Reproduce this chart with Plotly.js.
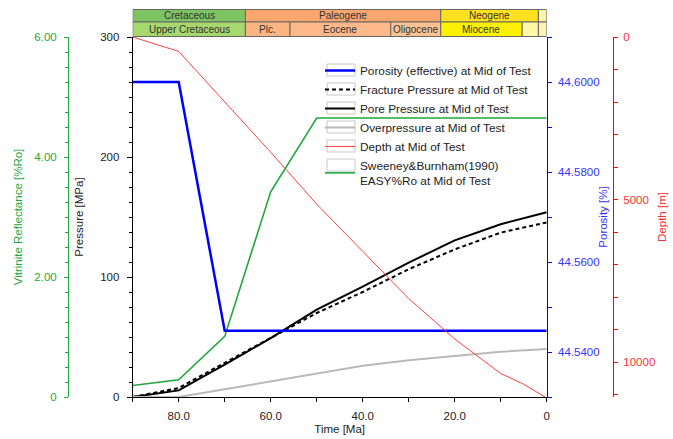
<!DOCTYPE html>
<html>
<head>
<meta charset="utf-8">
<script src="https://cdn.plot.ly/plotly-3.0.1.min.js"></script>
<style>html,body{margin:0;padding:0;background:#fff;}#chart{width:673px;height:439px;}</style>
</head>
<body>
<div id="chart"></div>
<script>
// ---- data ----
const time = [90, 80, 70, 60, 50, 40, 30, 20, 10, 0];
const porePressure = [0, 5.5, 27, 49, 72.8, 92, 112, 130.5, 144, 154];
const fracturePressure = [0, 7.5, 28.5, 49.5, 70, 87.5, 106.5, 123, 137, 145.5];
const overpressure = [0, 0, 6.5, 13, 19, 26, 30.7, 34, 37.7, 40];
const porosityTime = [90, 80, 70, 0];
const porosity = [44.6, 44.6, 44.5447, 44.5447];
const vrTime = [90, 80, 70, 60, 50, 0];
const vitrinite = [0.193, 0.288, 1.01, 3.42, 4.65, 4.65];
const depthTime = [90, 80, 70, 60, 50, 40, 30, 20, 10, 5, 0];
const depth = [0, 443, 1994, 3545, 5138, 6606, 8043, 9286, 10345, 10677, 11100];

const periodNames = ['Cretaceous', 'Paleogene', 'Neogene', ''];
const periodStart = [90, 65.5, 23.03, 1.806];
const periodEnd = [65.5, 23.03, 1.806, 0];
const epochNames = ['Upper Cretaceous', 'Plc.', 'Eocene', 'Oligocene', 'Miocene', '', ''];
const epochStart = [90, 65.5, 55.8, 33.9, 23.03, 5.332, 1.806];
const epochEnd = [65.5, 55.8, 33.9, 23.03, 5.332, 1.806, 0];

const timeTicks = [90, 80, 70, 60, 50, 40, 30, 20, 10, 0];
const timeTickText = ['', '80.0', '', '60.0', '', '40.0', '', '20.0', '', '0'];
const vrTicks = [0, 2, 4, 6];
const vrTickText = ['0', '2.00', '4.00', '6.00'];
const pressureTicks = [0, 100, 200, 300];
const porosityTicks = [44.54, 44.56, 44.58, 44.60];
const depthTicks = [0, 5000, 10000];

// ---- styles ----
const periodColors = ['#7fc462', '#f9a66f', '#ffe11f', '#fff3a8'];
const epochColors = ['#a6d86e', '#fdb582', '#fdb989', '#fdc291', '#fff200', '#fff8a4', '#fff0b4'];
const FONT = 'Liberation Sans, Arial, sans-serif';
const GREEN = '#1fa83c', BLUE = '#0000ff', RED = '#ff0000';

// layout geometry (px)
const W = 673, H = 439, ML = 10, MR = 10, MT = 37, MB = 42;
const PW = W - ML - MR, PH = H - MT - MB;
const px = x => (x - ML) / PW;
const py = y => (H - MB - y) / PH;

const traces = [
  {x: porosityTime, y: porosity, yaxis: 'y3', name: 'Porosity (effective) at Mid of Test',
   mode: 'lines', line: {color: BLUE, width: 2.5}},
  {x: time, y: fracturePressure, yaxis: 'y', name: 'Fracture Pressure at Mid of Test',
   mode: 'lines', line: {color: '#000', width: 2, dash: '4px,3px'}},
  {x: time, y: porePressure, yaxis: 'y', name: 'Pore Pressure at Mid of Test',
   mode: 'lines', line: {color: '#000', width: 2}},
  {x: time, y: overpressure, yaxis: 'y', name: 'Overpressure at Mid of Test',
   mode: 'lines', line: {color: '#b9b9b9', width: 2}},
  {x: depthTime, y: depth, yaxis: 'y4', name: 'Depth at Mid of Test',
   mode: 'lines', line: {color: '#ff4040', width: 1}},
  {x: vrTime, y: vitrinite, yaxis: 'y2', name: 'Sweeney&Burnham(1990)<br>EASY%Ro at Mid of Test',
   mode: 'lines', line: {color: GREEN, width: 1.6}}
];

const shapes = [];
const annotations = [];
const rowTop = py(9.5), rowMid = py(22), rowBot = py(36.5);
periodNames.forEach((n, i) => {
  shapes.push({type: 'rect', xref: 'x', yref: 'paper', x0: periodStart[i], x1: periodEnd[i],
    y0: rowMid, y1: rowTop, fillcolor: periodColors[i], line: {color: '#666', width: 1}, layer: 'above'});
  if (n) annotations.push({xref: 'x', yref: 'paper', x: (periodStart[i] + periodEnd[i]) / 2,
    y: (rowMid + rowTop) / 2, text: n, showarrow: false, font: {family: FONT, size: 10, color: '#333'},
    xanchor: 'center', yanchor: 'middle'});
});
epochNames.forEach((n, i) => {
  shapes.push({type: 'rect', xref: 'x', yref: 'paper', x0: epochStart[i], x1: epochEnd[i],
    y0: rowBot, y1: rowMid, fillcolor: epochColors[i], line: {color: '#666', width: 1}, layer: 'above'});
  if (n) annotations.push({xref: 'x', yref: 'paper', x: (epochStart[i] + epochEnd[i]) / 2,
    y: (rowMid + rowBot) / 2, text: n, showarrow: false, font: {family: FONT, size: 10, color: '#333'},
    xanchor: 'center', yanchor: 'middle'});
});
// legend sample frames
[70, 89, 108, 127, 146, 165].forEach(c => {
  shapes.push({type: 'rect', xref: 'paper', yref: 'paper', x0: px(327), x1: px(355),
    y0: py(c + 6), y1: py(c - 6), line: {color: '#c8c8c8', width: 1}, fillcolor: 'rgba(0,0,0,0)', layer: 'below'});
});

const tickFont = {family: FONT, size: 11.5, color: '#222'};
const layout = {
  width: W, height: H,
  margin: {l: ML, r: MR, t: MT, b: MB},
  paper_bgcolor: '#fff', plot_bgcolor: '#fff',
  font: {family: FONT, size: 11.5, color: '#222'},
  showlegend: true,
  legend: {x: px(320), y: py(56), xanchor: 'left', yanchor: 'top', bgcolor: 'rgba(0,0,0,0)',
    font: {family: FONT, size: 11.8, color: '#222'}, tracegroupgap: 0, itemwidth: 30},
  xaxis: {domain: [px(132.7), px(546.7)], range: [90, 0], showgrid: false, zeroline: false,
    showline: true, linecolor: '#000', linewidth: 1, ticks: 'outside', ticklen: 4, tickcolor: '#000',
    tickvals: timeTicks, ticktext: timeTickText, tickfont: tickFont, ticklabelstandoff: 4,
    title: {text: 'Time [Ma]', font: {family: FONT, size: 11.5, color: '#222'}, standoff: 4}},
  yaxis: {range: [0, 300], showgrid: false, zeroline: false, showline: true, linecolor: '#000',
    ticks: 'outside', ticklen: 5, tickcolor: '#000', tickvals: pressureTicks, tickfont: tickFont,
    ticklabelstandoff: 5,
    minor: {dtick: 12.5, tick0: 0, ticks: 'outside', ticklen: 3, tickcolor: '#000'},
    title: {text: 'Pressure [MPa]', font: {family: FONT, size: 11.5, color: '#222'}, standoff: 14}},
  yaxis2: {range: [0, 6], overlaying: 'y', anchor: 'free', position: px(68), side: 'left',
    showgrid: false, zeroline: false, showline: true, linecolor: GREEN, ticks: 'outside', ticklen: 4,
    tickcolor: GREEN, tickvals: vrTicks, ticktext: vrTickText, ticklabelstandoff: 5,
    tickfont: {family: FONT, size: 11.5, color: GREEN},
    minor: {dtick: 0.25, tick0: 0, ticks: 'outside', ticklen: 3, tickcolor: GREEN},
    title: {text: 'Vitrinite Reflectance [%Ro]', font: {family: FONT, size: 11.5, color: GREEN}, standoff: 8}},
  yaxis3: {range: [44.53, 44.61], overlaying: 'y', anchor: 'x', side: 'right',
    showgrid: false, zeroline: false, showline: true, linecolor: BLUE, ticks: 'outside', ticklen: 4,
    tickcolor: BLUE, tickvals: porosityTicks, tickformat: '.4f', ticklabelstandoff: 4,
    tickfont: {family: FONT, size: 11.5, color: '#3333ff'},
    minor: {dtick: 0.01, tick0: 44.5, ticks: 'outside', ticklen: 4, tickcolor: BLUE},
    title: {text: 'Porosity [%]', font: {family: FONT, size: 11.5, color: '#3333ff'}, standoff: 0}},
  yaxis4: {range: [11070, 0], overlaying: 'y', anchor: 'free', position: px(613), side: 'right',
    showgrid: false, zeroline: false, showline: true, linecolor: RED, ticks: 'outside', ticklen: 4,
    tickcolor: RED, tickvals: depthTicks, tickformat: 'd', ticklabelstandoff: 3,
    tickfont: {family: FONT, size: 11.5, color: '#ff3030'},
    minor: {dtick: 1000, tick0: 0, ticks: 'outside', ticklen: 4, tickcolor: RED},
    title: {text: 'Depth [m]', font: {family: FONT, size: 11.5, color: '#ff3030'}, standoff: 3}},
  shapes: shapes,
  annotations: annotations
};

Plotly.newPlot('chart', traces, layout, {displayModeBar: false, staticPlot: true});
</script>
</body>
</html>
